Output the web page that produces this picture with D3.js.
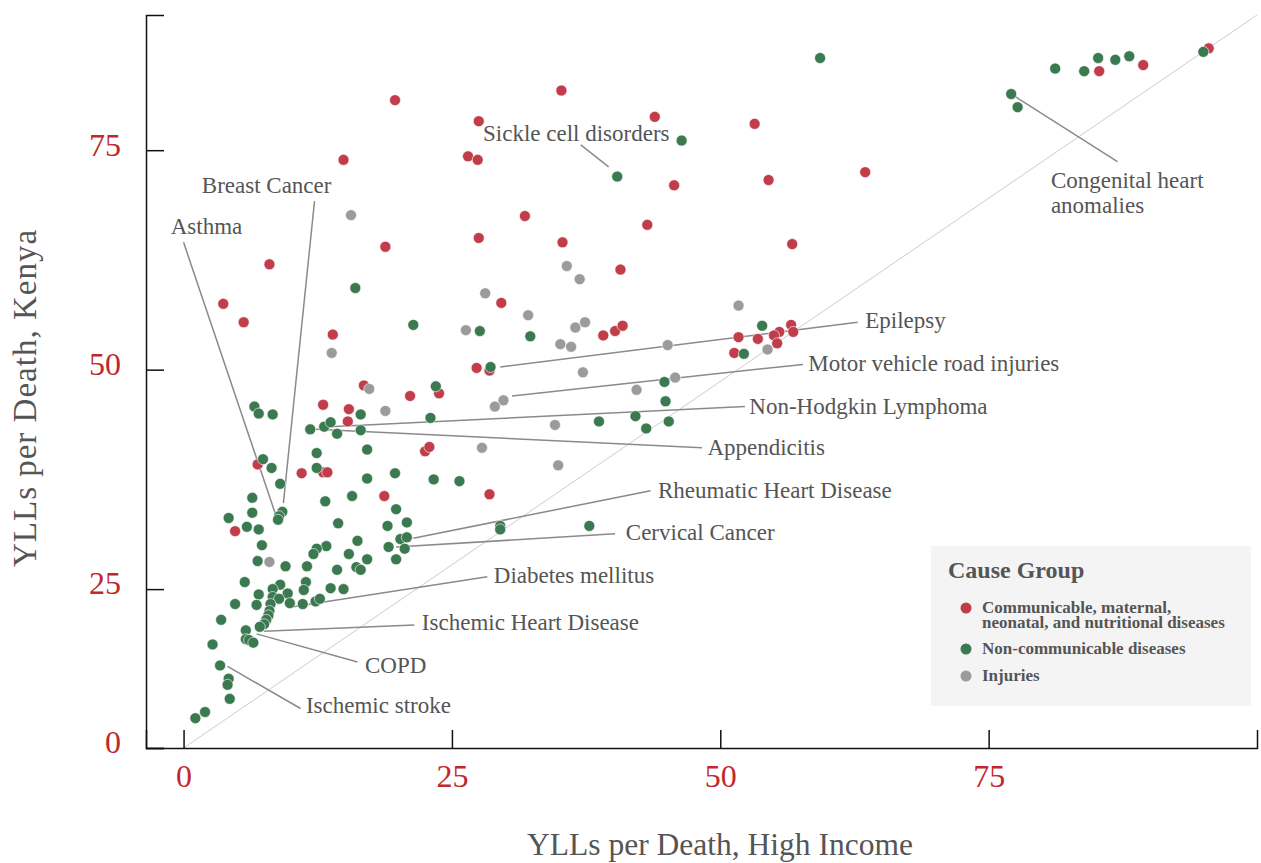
<!DOCTYPE html>
<html>
<head>
<meta charset="utf-8">
<script src="https://cdn.jsdelivr.net/npm/d3@7"></script>
<style>
  body { margin: 0; background: #fff; }
  text { font-family: "Liberation Serif", "Times New Roman", serif; }
</style>
</head>
<body>
<div id="scatter"></div>
<script>
// ==========================================================
// YLLs per death: Kenya vs High Income, by cause
// ==========================================================

// Cause groups and their colours
var groups = ["Communicable, maternal, neonatal, and nutritional diseases", "Non-communicable diseases", "Injuries"];
var groupColors = ["#c13d4a", "#3b7a50", "#9b9b9b"];

// [YLLs per death High Income, YLLs per death Kenya]
var communicable = [
  [19.7, 80.7], [35.2, 81.8], [27.5, 78.3], [14.9, 73.9], [26.5, 74.3], [27.4, 73.9],
  [18.8, 64.0], [27.5, 65.0], [35.3, 64.5], [31.8, 67.5], [8.0, 62.0], [40.7, 61.4],
  [3.7, 57.5], [5.6, 55.4], [29.6, 57.6], [39.1, 53.9], [40.2, 54.4], [40.9, 55.0],
  [13.9, 54.0], [43.9, 78.8], [53.2, 78.0], [45.7, 71.0], [54.5, 71.6], [63.5, 72.5],
  [43.2, 66.5], [56.7, 64.3], [56.6, 55.1], [55.5, 54.3], [55.0, 53.9], [56.8, 54.3],
  [51.7, 53.7], [53.5, 53.5], [55.3, 53.0], [51.3, 51.9], [27.3, 50.2], [28.5, 49.9],
  [16.8, 48.2], [21.1, 47.0], [23.8, 47.3], [13.0, 46.0], [15.4, 45.5], [15.3, 44.1],
  [22.5, 40.7], [22.9, 41.2], [6.9, 39.2], [11.0, 38.2], [13.0, 38.3], [13.4, 38.3],
  [18.7, 35.6], [28.5, 35.8], [4.8, 31.6], [85.3, 84.0], [89.4, 84.7], [95.5, 86.6]
];

var nonCommunicable = [
  [59.3, 85.5], [46.4, 76.1], [40.4, 72.0], [81.2, 84.3], [83.9, 84.0], [85.2, 85.5],
  [86.8, 85.3], [88.1, 85.7], [95.0, 86.2], [77.1, 81.4], [77.7, 79.9], [16.0, 59.3],
  [21.4, 55.1], [27.6, 54.4], [32.3, 53.8], [53.9, 55.0], [52.2, 51.8], [28.6, 50.3],
  [23.5, 48.1], [44.8, 48.6], [44.9, 46.4], [42.1, 44.7], [38.7, 44.1], [43.1, 43.3],
  [45.2, 44.1], [23.0, 44.5], [25.7, 37.3], [29.5, 32.2], [29.5, 31.8], [37.8, 32.2],
  [6.6, 45.8], [7.0, 45.0], [8.3, 44.9], [16.5, 44.9], [11.8, 43.2], [13.1, 43.5],
  [13.7, 44.0], [14.3, 42.7], [16.5, 43.1], [12.4, 40.5], [17.1, 40.9], [7.4, 39.8],
  [8.2, 38.8], [12.4, 38.8], [17.1, 37.6], [19.7, 38.2], [23.3, 37.5], [9.0, 37.0],
  [6.4, 35.4], [15.7, 35.6], [13.2, 35.0], [19.8, 34.1], [6.4, 33.7], [9.2, 33.8],
  [8.9, 33.3], [8.8, 32.9], [4.2, 33.1], [5.9, 32.1], [7.0, 31.8], [14.4, 32.5],
  [19.0, 32.2], [20.8, 32.6], [20.2, 30.7], [20.8, 30.9], [7.3, 30.0], [13.3, 29.9],
  [16.2, 30.5], [19.1, 29.8], [20.6, 29.6], [12.4, 29.6], [12.1, 29.0], [6.9, 28.2],
  [9.5, 27.6], [11.5, 27.6], [15.4, 29.0], [17.1, 28.4], [16.1, 27.5], [16.5, 27.2],
  [14.3, 27.2], [19.8, 28.4], [5.7, 25.8], [9.0, 25.5], [8.3, 25.0], [7.0, 24.4],
  [9.7, 24.5], [11.4, 25.8], [11.2, 24.9], [13.7, 25.1], [14.9, 25.0], [8.3, 24.1],
  [8.9, 23.9], [4.8, 23.3], [6.8, 23.2], [8.1, 23.3], [9.9, 23.4], [11.1, 23.3],
  [12.3, 23.6], [12.7, 23.9], [8.0, 22.5], [7.9, 22.0], [7.7, 21.5], [7.5, 21.0],
  [3.5, 21.5], [7.1, 20.7], [5.8, 20.3], [5.8, 19.3], [6.1, 19.2], [6.5, 18.9],
  [2.7, 18.7], [3.4, 16.3], [4.2, 14.8], [4.1, 14.1], [4.3, 12.5], [2.0, 11.0],
  [1.1, 10.3]
];

var injuries = [
  [15.6, 67.6], [35.7, 61.8], [36.9, 60.3], [28.1, 58.7], [32.1, 56.2], [26.3, 54.5],
  [36.5, 54.8], [37.4, 55.4], [35.1, 52.9], [36.1, 52.6], [13.8, 51.9], [51.7, 57.3],
  [45.1, 52.8], [54.4, 52.3], [37.2, 49.7], [45.8, 49.1], [42.2, 47.7], [29.8, 46.5],
  [29.0, 45.8], [17.3, 47.8], [18.8, 45.3], [34.6, 43.7], [27.8, 41.1], [34.9, 39.1],
  [8.0, 28.1]
];

// Labelled causes: point end of the leader, label end of the leader, text anchor
var annotations = [
  { label: ["Sickle cell disorders"], from: [39.6, 73.1], to: [37.0, 75.6], text: [27.9, 76.1] },
  { label: ["Breast Cancer"], from: [9.3, 34.8], to: [12.2, 69.2], text: [1.7, 70.1] },
  { label: ["Asthma"], from: [8.6, 33.4], to: [0.0, 64.5], text: [-1.2, 65.5] },
  { label: ["Congenital heart", "anomalies"], from: [77.1, 81.4], to: [87.0, 73.7], text: [80.8, 70.7] },
  { label: ["Epilepsy"], from: [29.5, 50.3], to: [62.8, 55.4], text: [63.5, 54.8] },
  { label: ["Motor vehicle road injuries"], from: [30.6, 47.0], to: [57.7, 50.6], text: [58.2, 49.9] },
  { label: ["Non-Hodgkin Lymphoma"], from: [13.6, 43.5], to: [52.3, 45.8], text: [52.7, 45.0] },
  { label: ["Appendicitis"], from: [12.3, 43.2], to: [48.3, 41.1], text: [48.8, 40.3] },
  { label: ["Rheumatic Heart Disease"], from: [21.4, 30.8], to: [43.5, 36.2], text: [44.2, 35.4] },
  { label: ["Cervical Cancer"], from: [19.8, 29.8], to: [40.2, 31.3], text: [41.2, 30.6] },
  { label: ["Diabetes mellitus"], from: [10.2, 23.0], to: [28.3, 26.4], text: [28.9, 25.7] },
  { label: ["Ischemic Heart Disease"], from: [7.5, 20.2], to: [21.5, 20.9], text: [22.2, 20.3] },
  { label: ["COPD"], from: [6.8, 19.9], to: [16.2, 16.7], text: [16.9, 15.5] },
  { label: ["Ischemic stroke"], from: [4.1, 16.2], to: [10.9, 11.4], text: [11.4, 10.9] }
];

var xTicks = [0, 25, 50, 75];
var yTicks = [0, 25, 50, 75];

// ----------------------------------------------------------
var svgWidth = 1261;
var svgHeight = 863;

var svg = d3.select("#scatter")
  .append("svg")
  .attr("width", svgWidth)
  .attr("height", svgHeight);

var xScale = d3.scaleLinear()
  .domain([-3.5, 100])
  .range([146, 1257]);

// clamped, so the 0 tick and the diagonal sit on the bottom edge
var yScale = d3.scaleLinear()
  .domain([6.9, 90.4])
  .range([748, 15])
  .clamp(true);

// y = x reference line
svg.append("line")
  .attr("x1", xScale(0))
  .attr("y1", yScale(0))
  .attr("x2", xScale(100))
  .attr("y2", yScale(100))
  .attr("stroke", "#cccccc")
  .attr("stroke-width", 1);

// axes
var xAxis = svg.append("g")
  .attr("transform", `translate(0, ${yScale.range()[0]})`)
  .call(d3.axisBottom(xScale).tickValues(xTicks).tickSize(-18).tickPadding(16));

var yAxis = svg.append("g")
  .attr("transform", `translate(${xScale.range()[0]}, 0)`)
  .call(d3.axisLeft(yScale).tickValues(yTicks).tickSize(-18).tickPadding(25));

[xAxis, yAxis].forEach(function(ax) {
  ax.select(".domain").attr("stroke", "#111").attr("stroke-width", 1.5);
  ax.selectAll(".tick line").attr("stroke", "#111").attr("stroke-width", 1.5);
  ax.selectAll(".tick text")
    .attr("fill", "#c1272d")
    .attr("font-size", "32px")
    .attr("font-family", "'Liberation Serif', serif");
});
yAxis.selectAll(".tick text").attr("dy", "0.15em");

// leader lines
var annGroup = svg.append("g");
annGroup.selectAll("line")
  .data(annotations)
  .enter()
  .append("line")
  .attr("x1", d => xScale(d.from[0]))
  .attr("y1", d => yScale(d.from[1]))
  .attr("x2", d => xScale(d.to[0]))
  .attr("y2", d => yScale(d.to[1]))
  .attr("stroke", "#8a8a8a")
  .attr("stroke-width", 1.5);

// points
var series = [communicable, nonCommunicable, injuries];
series.forEach(function(pts, i) {
  svg.append("g")
    .selectAll("circle")
    .data(pts)
    .enter()
    .append("circle")
    .attr("cx", d => xScale(d[0]))
    .attr("cy", d => yScale(d[1]))
    .attr("r", 5.5)
    .attr("fill", groupColors[i])
    .attr("stroke", "#fff")
    .attr("stroke-width", 0.6);
});

// annotation labels
var labels = annGroup.selectAll("text")
  .data(annotations)
  .enter()
  .append("text")
  .attr("x", d => xScale(d.text[0]))
  .attr("y", d => yScale(d.text[1]))
  .attr("font-size", "23px")
  .attr("fill", "#555");

labels.selectAll("tspan")
  .data(d => d.label.map(function(t) { return { t: t, x: xScale(d.text[0]) }; }))
  .enter()
  .append("tspan")
  .attr("x", d => d.x)
  .attr("dy", (d, i) => i === 0 ? 0 : "1.08em")
  .text(d => d.t);

// axis titles
svg.append("text")
  .attr("x", 720)
  .attr("y", 855)
  .attr("text-anchor", "middle")
  .attr("font-size", "31.5px")
  .attr("fill", "#555")
  .text("YLLs per Death, High Income");

svg.append("text")
  .attr("transform", "translate(36, 398) rotate(-90)")
  .attr("text-anchor", "middle")
  .attr("font-size", "33px")
  .attr("letter-spacing", "1px")
  .attr("fill", "#555")
  .text("YLLs per Death, Kenya");

// legend
var legend = svg.append("g").attr("transform", "translate(931, 546)");

legend.append("rect")
  .attr("width", 320)
  .attr("height", 160)
  .attr("fill", "#f4f4f4");

legend.append("text")
  .attr("x", 17)
  .attr("y", 32)
  .attr("font-size", "24px")
  .attr("font-weight", "bold")
  .attr("fill", "#555")
  .text("Cause Group");

var legendLines = [
  ["Communicable, maternal,", "neonatal, and nutritional diseases"],
  ["Non-communicable diseases"],
  ["Injuries"]
];
var legendY = [62, 103, 130];

var items = legend.selectAll(".item")
  .data(groups)
  .enter()
  .append("g")
  .attr("class", "item")
  .attr("transform", (d, i) => `translate(0, ${legendY[i]})`);

items.append("circle")
  .attr("cx", 35)
  .attr("cy", 0)
  .attr("r", 5.5)
  .attr("fill", (d, i) => groupColors[i]);

items.append("text")
  .attr("x", 51)
  .attr("y", 0)
  .attr("font-size", "17px")
  .attr("font-weight", "bold")
  .attr("fill", "#555")
  .each(function(d, i) {
    var t = d3.select(this);
    legendLines[i].forEach(function(line, j) {
      t.append("tspan")
        .attr("x", 51)
        .attr("dy", j === 0 ? "0.3em" : "0.9em")
        .text(line);
    });
  });
</script>
</body>
</html>
